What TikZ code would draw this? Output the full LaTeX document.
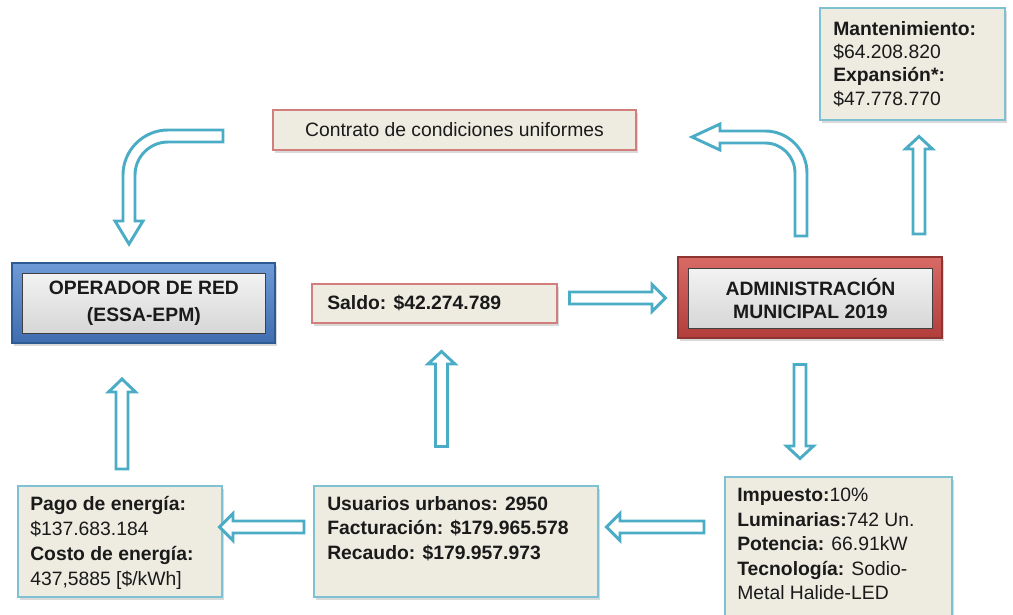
\documentclass[tikz,border=0pt]{standalone}
\usepackage{fontspec}
\setmainfont{Liberation Sans}
\usetikzlibrary{shadows}
\definecolor{arrowblue}{HTML}{4BACC6}
\definecolor{infofill}{HTML}{EEECE1}
\definecolor{infoline}{HTML}{7DC1D3}
\definecolor{redline}{HTML}{D27E7C}
\definecolor{frameblueA}{HTML}{6E9AD6}
\definecolor{frameblueB}{HTML}{3F6DB0}
\definecolor{frameblueedge}{HTML}{2E5A93}
\definecolor{frameredA}{HTML}{D86A66}
\definecolor{frameredB}{HTML}{B23E3B}
\definecolor{frameredge}{HTML}{8E3431}
\definecolor{txtcol}{HTML}{1A1A1A}
\def\px{0.75pt}
\newcommand\vArrow[4]{%
  \draw[barrow] ({#1-6},#2) -- ({#1-6},#3) -- ({#1-13.5},#3) -- (#1,#4) -- ({#1+13.5},#3) -- ({#1+6},#3) -- ({#1+6},#2) -- cycle;}
\newcommand\hArrow[4]{%
  \draw[barrow] (#2,{#1-6}) -- (#3,{#1-6}) -- (#3,{#1-13.5}) -- (#4,#1) -- (#3,{#1+13.5}) -- (#3,{#1+6}) -- (#2,{#1+6}) -- cycle;}
\begin{document}
\begin{tikzpicture}[x=0.75pt,y=-0.75pt,
  barrow/.style={draw=arrowblue, line width=2.2pt, fill=white, line join=miter},
  boxbase/.style={rectangle, anchor=north west, inner sep=0pt, outer sep=0pt,
    drop shadow={shadow xshift=1.5pt, shadow yshift=-2pt, opacity=0.3}},
  infobox/.style={boxbase, draw=infoline, line width=1.3pt, fill=infofill},
  redbox/.style={boxbase, draw=redline, line width=1pt, fill=infofill},
  innerbox/.style={rectangle, anchor=north west, inner sep=0pt, draw=black!75, line width=0.6pt,
    top color=gray!10, bottom color=gray!32},
  txt/.style={inner sep=0pt, align=left, text=txtcol, font=\fontsize{14.5}{18.4}\selectfont},
  headtxt/.style={inner sep=0pt, align=center, text=txtcol}
]
\useasboundingbox (0,0) rectangle (1013,614);

% boxes
\node[redbox, minimum width=363*\px, minimum height=40*\px] (contrato) at (273,110) {};
\node[infobox, minimum width=185*\px, minimum height=112*\px] (mant) at (820,8) {};
\node[redbox, minimum width=245*\px, minimum height=39*\px] (saldo) at (312,284) {};
\node[infobox, minimum width=204*\px, minimum height=111*\px] (pago) at (18,486) {};
\node[infobox, minimum width=284*\px, minimum height=111*\px] (usuarios) at (314,486) {};
\node[infobox, minimum width=227*\px, minimum height=140*\px] (impuesto) at (725,477) {};

% framed boxes
\node[boxbase, top color=frameblueA, bottom color=frameblueB, draw=frameblueedge, line width=0.8pt,
  minimum width=263*\px, minimum height=80*\px] (opframe) at (12,263) {};
\node[innerbox, minimum width=243*\px, minimum height=60*\px] (opinner) at (22,273) {};
\node[boxbase, top color=frameredA, bottom color=frameredB, draw=frameredge, line width=0.8pt,
  minimum width=264*\px, minimum height=81*\px] (adframe) at (678,257) {};
\node[innerbox, minimum width=244*\px, minimum height=60*\px] (adinner) at (688,268) {};

% texts
\node[headtxt, font=\bfseries\fontsize{14.5}{20}\selectfont] (optext) at (opinner.center) {OPERADOR DE RED\\(ESSA-EPM)};
\node[headtxt, font=\bfseries\fontsize{14.5}{17.5}\selectfont] (adtext) at (adinner.center) {ADMINISTRACIÓN\\MUNICIPAL 2019};
\node[txt] (contratotext) at (contrato.center) {Contrato de condiciones uniformes};
\node[txt, anchor=west] (saldotext) at (327,303) {\textbf{Saldo: \$42.274.789}};
\node[txt, anchor=north west, font=\fontsize{14.5}{17.5}\selectfont] (manttext) at (833,21)
  {\textbf{Mantenimiento:}\\\$64.208.820\\\textbf{Expansión*:}\\\$47.778.770};
\node[txt, anchor=north west, font=\fontsize{14.5}{18.7}\selectfont] (pagotext) at (30,496)
  {\textbf{Pago de energía:}\\\$137.683.184\\\textbf{Costo de energía:}\\437,5885 [\$/kWh]};
\node[txt, anchor=north west] (usuariostext) at (327,496)
  {\textbf{Usuarios urbanos: 2950}\\\textbf{Facturación: \$179.965.578}\\\textbf{Recaudo: \$179.957.973}};
\node[txt, anchor=north west] (impuestotext) at (737,488)
  {\textbf{Impuesto:}10\%\\\textbf{Luminarias:}742 Un.\\\textbf{Potencia:} 66.91kW\\\textbf{Tecnología:} Sodio-\\Metal Halide-LED};

% curved block arrows
\draw[barrow] (223,130) -- (168,130) .. controls (143.2,130) and (123,150.2) .. (123,175)
  -- (123,221) -- (115,221) -- (129,244) -- (143,221) -- (135,221) -- (135,175)
  .. controls (135,156.8) and (149.8,142) .. (168,142) -- (223,142) -- cycle;
\draw[barrow] (795,236) -- (795,173) .. controls (795,156.4) and (781.6,143) .. (765,143)
  -- (720,143) -- (720,150) -- (692,137) -- (720,124) -- (720,131) -- (765,131)
  .. controls (788.2,131) and (807,149.8) .. (807,173) -- (807,236) -- cycle;

% straight block arrows
\vArrow{919}{234}{149}{136.5}
\vArrow{441.5}{446.5}{364}{351.5}
\vArrow{122}{469}{392}{379}
\vArrow{800}{364.5}{446}{458.5}
\hArrow{298}{569.5}{652}{665.5}
\hArrow{527}{704}{620}{606.5}
\hArrow{527}{304}{233}{219.5}
\end{tikzpicture}
\end{document}
